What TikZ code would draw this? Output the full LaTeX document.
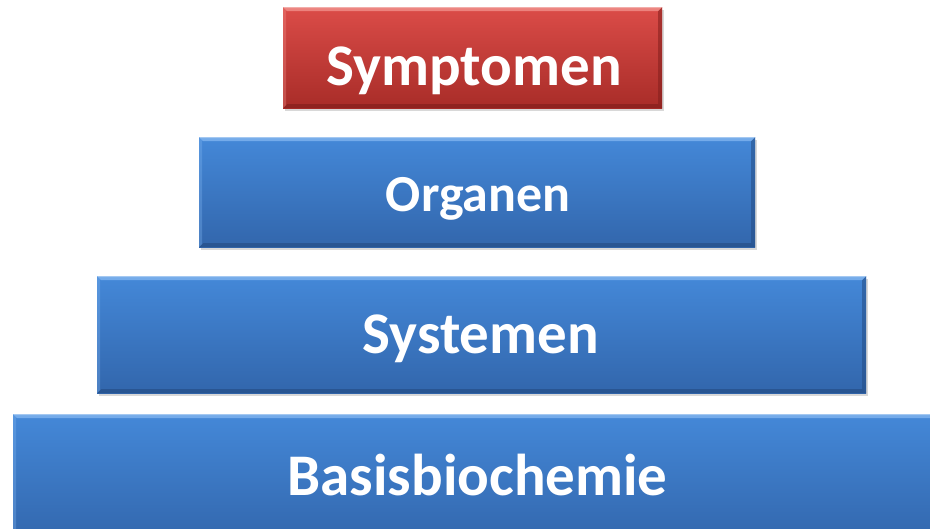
\documentclass[tikz,border=0pt]{standalone}
\usepackage{fontspec}
\setmainfont{Carlito}
\usetikzlibrary{shadows,calc}

% tier colours: upper and lower end of the vertical gradient, plus bevel tones
\definecolor{redtop}{RGB}{219,76,72}
\definecolor{redbot}{RGB}{168,44,40}
\definecolor{redlight}{RGB}{240,140,135}
\definecolor{reddark}{RGB}{130,30,28}
\definecolor{bluetop}{RGB}{68,136,216}
\definecolor{bluebot}{RGB}{50,102,172}
\definecolor{bluelight}{RGB}{125,178,238}
\definecolor{bluedark}{RGB}{36,76,132}

\tikzset{
  tier/.style={
    rectangle, draw=none, inner sep=0pt, anchor=north west,
    top color=#1top, bottom color=#1bot,
    drop shadow={opacity=0.30, shadow xshift=1.5pt, shadow yshift=-2.5pt},
    path picture={
      \coordinate (nw) at (path picture bounding box.north west);
      \coordinate (ne) at (path picture bounding box.north east);
      \coordinate (sw) at (path picture bounding box.south west);
      \coordinate (se) at (path picture bounding box.south east);
      % bevel: light top, soft left, dark right and bottom
      \fill[#1light, opacity=0.85] (nw) -- (ne) -- ($(ne)+(-4,4)$) -- ($(nw)+(4,4)$) -- cycle;
      \fill[white, opacity=0.35] (nw) -- (ne) -- ($(ne)+(-1,1)$) -- ($(nw)+(1,1)$) -- cycle;
      \fill[#1light, opacity=0.35] (nw) -- ($(nw)+(3,3)$) -- ($(sw)+(3,-3)$) -- (sw) -- cycle;
      \fill[#1dark, opacity=0.55] (ne) -- (se) -- ($(se)+(-4,-4)$) -- ($(ne)+(-4,4)$) -- cycle;
      \fill[#1dark, opacity=0.65] (sw) -- (se) -- ($(se)+(-4,-4)$) -- ($(sw)+(4,-4)$) -- cycle;
    }
  },
  tierlabel/.style={anchor=base, text=white, inner sep=0pt,
    font=\fontsize{#1}{#1}\selectfont\bfseries},
}

\begin{document}
\begin{tikzpicture}[x=1pt,y=-1pt]
  \useasboundingbox (0,0) rectangle (930,528);
  \fill[white] (0,0) rectangle (930,528);
  \clip (0,0) rectangle (930,528);

  % the four tiers, narrowest on top
  \node[tier=red,  minimum width=379pt, minimum height=101pt] (symptomen) at (283,7) {};
  \node[tier=blue, minimum width=556pt, minimum height=110pt] (organen) at (199,137) {};
  \node[tier=blue, minimum width=769pt, minimum height=117pt] (systemen) at (97,276) {};
  \node[tier=blue, minimum width=935pt, minimum height=130pt] (basis) at (13,414) {};

  % labels on their baselines
  \node[tierlabel=59] (symptomentext) at ($(symptomen.north)+(1.5,78)$) {Symptomen};
  \node[tierlabel=52] (organentext) at ($(organen.north)+(1,74)$) {Organen};
  \node[tierlabel=59] (systementext) at ($(systemen.north)+(-1,77)$) {Systemen};
  \node[tierlabel=59] (basistext) at (477.5,495) {Basisbiochemie};
\end{tikzpicture}
\end{document}
